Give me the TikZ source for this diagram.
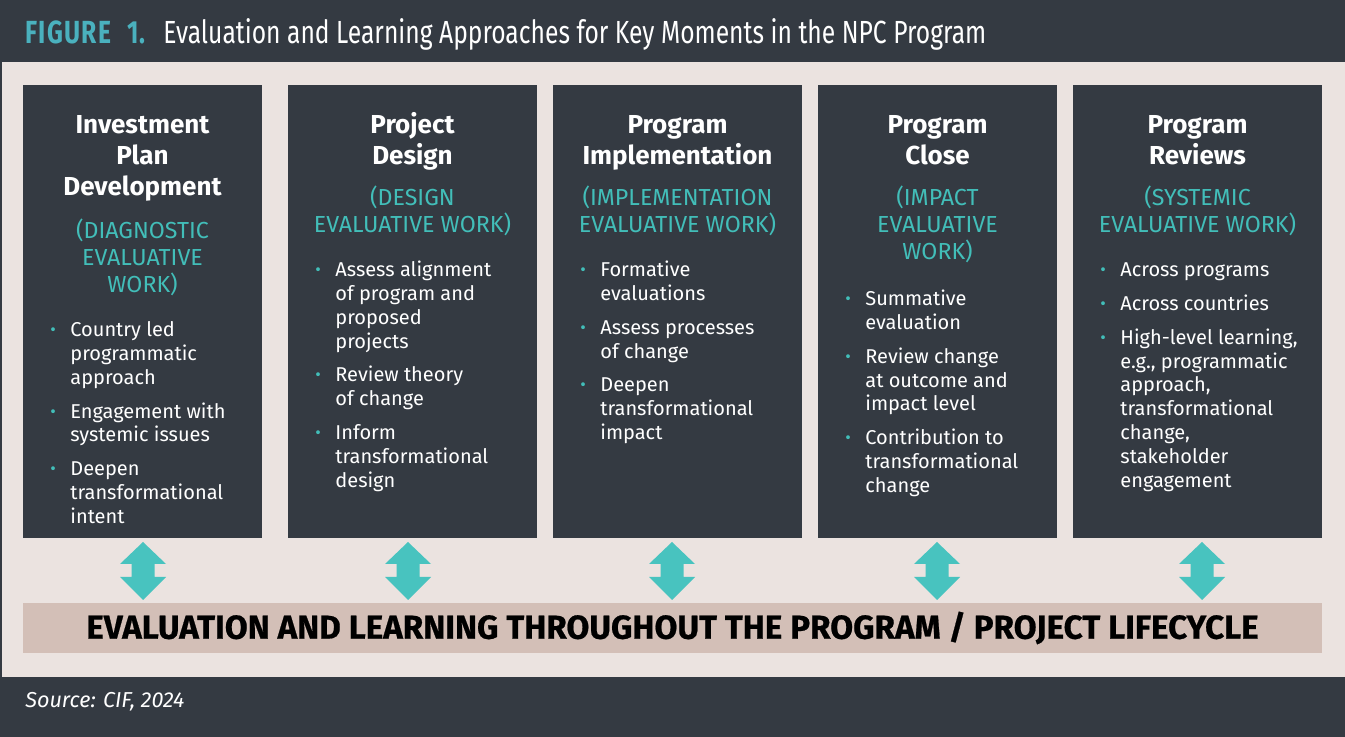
\documentclass[tikz,border=0pt]{standalone}
\usepackage{fontspec}
\setmainfont{Fira Sans}
\newfontfamily\condfont[FakeStretch=0.77]{Fira Sans}
\newfontfamily\heavyfont[FakeBold=0.6]{Fira Sans}
\usetikzlibrary{fit}

\definecolor{darkbg}{HTML}{343A42}
\definecolor{lightbg}{HTML}{EBE3E0}
\definecolor{tealtxt}{HTML}{42BEB9}
\definecolor{arrowfill}{HTML}{48C3BF}
\definecolor{figblue}{HTML}{4AB1BE}
\definecolor{barbg}{HTML}{D3BFB7}

% small teal bullet for the lists
\newcommand{\bdot}{\textcolor{tealtxt}{\raisebox{0.5pt}{\scalebox{0.85}{\textbullet}}}}

\tikzset{
	colbox/.style={fill=darkbg, inner sep=0pt},
	coltitle/.style={anchor=north, align=center, inner sep=0pt, text=white,
		font=\fontsize{13}{15.5}\selectfont\bfseries},
	colsub/.style={anchor=north, align=center, inner sep=0pt, text=tealtxt,
		font=\fontsize{11.6}{13.5}\selectfont},
	colitems/.style={anchor=north west, inner sep=0pt, text=white,
		font=\fontsize{10}{11.9}\selectfont},
}

\begin{document}
\begin{tikzpicture}[x=0.5pt,y=-0.5pt]
		\useasboundingbox (0,0) rectangle (1345,737);
		% background bands
		\fill[darkbg] (0,0) rectangle (1345,737);
		\fill[lightbg] (2,62) rectangle (1345,677);
		
		% header
		\node[anchor=base west, inner sep=0pt, text=figblue,
			font=\fontsize{16}{19}\condfont\bfseries\addfontfeature{LetterSpace=4}] (fignum) at (25,44)
			{FIGURE\hspace{8pt}1.};
		\node[anchor=base west, inner sep=0pt, text=white,
			font=\fontsize{16}{19}\condfont] (figtitle) at (163,44)
			{Evaluation and Learning Approaches for Key Moments in the NPC Program};
		
		% columns
		\foreach \n/\l/\r in {1/23/262, 2/288/537, 3/553/802, 4/818/1057, 5/1073/1322}
			\node[colbox, fit={(\l,85) (\r,538)}] (col\n) {};
		
		% column 1
		\node[coltitle] (t1) at (142.5,111.8) {\strut Investment\\Plan\\Development};
		\node[colsub] (s1) at (142.5,218.5) {(DIAGNOSTIC\\EVALUATIVE\\WORK)};
		\node[colitems] (i1) at (50,319.6) {\begin{tabular}{@{}p{10pt}@{}l@{}}
			\bdot & Country led\\ & programmatic\\ & approach\\[5pt]
			\bdot & Engagement with\\ & systemic issues\\[5pt]
			\bdot & Deepen\\ & transformational\\ & intent
		\end{tabular}};
		
		% column 2
		\node[coltitle] (t2) at (412.5,111.8) {\strut Project\\Design};
		\node[colsub] (s2) at (412.5,185.3) {(DESIGN\\EVALUATIVE WORK)};
		\node[colitems] (i2) at (315,259.6) {\begin{tabular}{@{}p{10pt}@{}l@{}}
			\bdot & Assess alignment\\ & of program and\\ & proposed\\ & projects\\[5pt]
			\bdot & Review theory\\ & of change\\[5pt]
			\bdot & Inform\\ & transformational\\ & design
		\end{tabular}};
		
		% column 3
		\node[coltitle] (t3) at (677.5,111.8) {\strut Program\\Implementation};
		\node[colsub] (s3) at (677.5,185.3) {(IMPLEMENTATION\\EVALUATIVE WORK)};
		\node[colitems] (i3) at (580,259.6) {\begin{tabular}{@{}p{10pt}@{}l@{}}
			\bdot & Formative\\ & evaluations\\[5pt]
			\bdot & Assess processes\\ & of change\\[5pt]
			\bdot & Deepen\\ & transformational\\ & impact
		\end{tabular}};
		
		% column 4
		\node[coltitle] (t4) at (937.5,111.8) {\strut Program\\Close};
		\node[colsub] (s4) at (937.5,185.3) {(IMPACT\\EVALUATIVE\\WORK)};
		\node[colitems] (i4) at (845,288.6) {\begin{tabular}{@{}p{10pt}@{}l@{}}
			\bdot & Summative\\ & evaluation\\[5pt]
			\bdot & Review change\\ & at outcome and\\ & impact level\\[5pt]
			\bdot & Contribution to\\ & transformational\\ & change
		\end{tabular}};
		
		% column 5
		\node[coltitle] (t5) at (1197.5,111.8) {\strut Program\\Reviews};
		\node[colsub] (s5) at (1197.5,185.3) {(SYSTEMIC\\EVALUATIVE WORK)};
		\node[colitems] (i5) at (1100,259.6) {\begin{tabular}{@{}p{10pt}@{}l@{}}
			\bdot & Across programs\\[5pt]
			\bdot & Across countries\\[5pt]
			\bdot & High-level learning,\\ & e.g., programmatic\\ & approach,\\
				& transformational\\ & change,\\ & stakeholder\\ & engagement
		\end{tabular}};
		
		% up/down arrows
		\foreach \x in {143,408,672,937,1202}
			\fill[arrowfill] (\x,542) -- ++(23,22) -- ++(-11.5,0) -- ++(0,13) -- ++(11.5,0)
				-- (\x,600) -- ++(-23,-23) -- ++(11.5,0) -- ++(0,-13) -- ++(-11.5,0) -- cycle;
		
		% lifecycle bar
		\node[fill=barbg, inner sep=0pt, fit={(23,603) (1322,653)}] (bar) {};
		\node[inner sep=0pt, font=\fontsize{16.6}{19}\heavyfont\bfseries] (bartext) at (bar.center)
			{EVALUATION AND LEARNING THROUGHOUT THE PROGRAM / PROJECT LIFECYCLE};
		
		% footer
		\node[anchor=base west, inner sep=0pt, text=white, font=\fontsize{10.8}{13}\selectfont\itshape]
			(source) at (25,707) {Source: CIF, 2024};
\end{tikzpicture}
\end{document}
